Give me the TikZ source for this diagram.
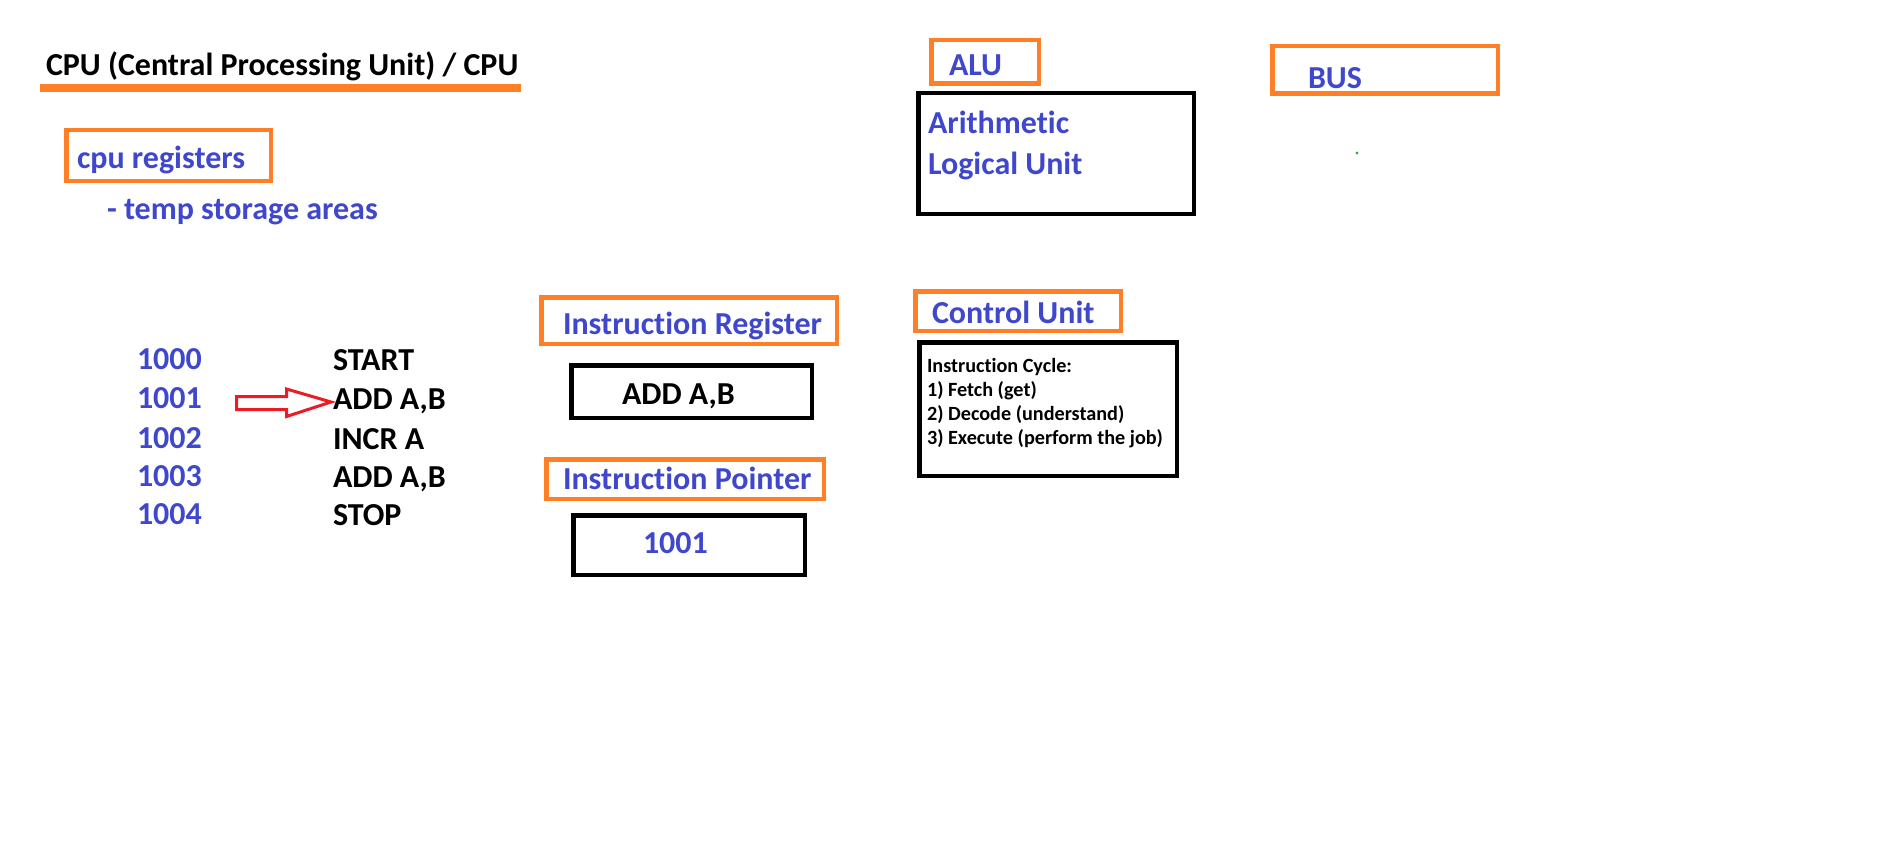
\documentclass[tikz,border=0pt]{standalone}
\usepackage{fontspec}
\setmainfont{Carlito}[Ligatures=CommonOff]
\definecolor{pblue}{HTML}{3F48CC}
\definecolor{porange}{HTML}{FF7F27}
\definecolor{pred}{HTML}{ED1C24}
\definecolor{pgreen}{HTML}{22B14C}
\tikzset{
  big/.style={font=\fontsize{32}{38}\selectfont\bfseries},
  small/.style={font=\fontsize{20.2}{24}\selectfont\bfseries},
  txt/.style={anchor=base west, inner sep=0pt, outer sep=0pt},
  btxt/.style={txt, big, text=pblue},
  ktxt/.style={txt, big, text=black},
  stxt/.style={txt, small, text=black},
  obox/.style={draw=porange, line width=4.5pt},
  kbox/.style={draw=black, line width=4.5pt},
}
\newcommand{\boxat}[6]{% style, name, x1, y1, x2, y2 (outer edges)
  \path[#1] (#3+2.25,#4+2.25) rectangle (#5-2.25,#6-2.25);
  \coordinate (#2) at ({(#3+#5)/2},{(#4+#6)/2});
}
\begin{document}
\begin{tikzpicture}[x=1pt,y=-1pt]
\useasboundingbox[fill=white] (0,0) rectangle (1894,848);

% title
\node[ktxt] (title) at (46,76) {CPU (Central Processing Unit) / CPU};
\draw[porange, line width=8pt] (40,88) coordinate (ul1) -- (521,88) coordinate (ul2);

% cpu registers
\boxat{obox}{regbox}{64}{128}{273}{183}
\node[btxt] (reg) at (77,168) {cpu registers};
\node[btxt] (temp) at (107,219) {- temp storage areas};

% memory listing
\node[btxt] (a0) at (137,369) {1000};
\node[btxt] (a1) at (137,408) {1001};
\node[btxt] (a2) at (137,448) {1002};
\node[btxt] (a3) at (137,486) {1003};
\node[btxt] (a4) at (137,524) {1004};
\node[ktxt] (i0) at (333,370) {START};
\node[ktxt] (i1) at (333,409) {ADD A,B};
\node[ktxt] (i2) at (333,449) {INCR A};
\node[ktxt] (i3) at (333,487) {ADD A,B};
\node[ktxt] (i4) at (333,525) {STOP};

% red hollow arrow
\draw[pred, line width=3pt, line join=miter]
  (236.5,396.5) -- (286.5,396.5) -- (286.5,389) -- (331,402) -- (286.5,416.5)
  -- (286.5,409.5) -- (236.5,409.5) -- cycle;

% instruction register
\boxat{obox}{irbox}{539}{295}{839}{346}
\node[btxt] (ir) at (563,334) {Instruction Register};
\boxat{kbox}{irval}{569}{363}{814}{420}
\node[ktxt] (irv) at (622,404) {ADD A,B};

% instruction pointer
\boxat{obox}{ipbox}{544}{457}{826}{501}
\node[btxt] (ip) at (563,489) {Instruction Pointer};
\boxat{kbox}{ipval}{571}{513}{807}{577}
\node[btxt] (ipv) at (643,553) {1001};

% ALU
\boxat{obox}{alubox}{929}{38}{1041}{86}
\node[btxt] (alu) at (949,76) {ALU};
\boxat{kbox}{aluval}{916}{91}{1196}{216}
\node[btxt] (alu1) at (928,134) {Arithmetic};
\node[btxt] (alu2) at (928,174) {Logical Unit};

% BUS
\boxat{obox}{busbox}{1270}{44}{1500}{96}
\node[btxt] (bus) at (1308,89) {BUS};
\fill[pgreen] (1357,153) circle (1.6);

% Control unit
\boxat{obox}{cubox}{913}{289}{1123}{333}
\node[btxt] (cu) at (932,323) {Control Unit};
\boxat{kbox}{cuval}{917}{340}{1179}{478}
\node[stxt] (c0) at (927,372) {Instruction Cycle:};
\node[stxt] (c1) at (927,396) {1) Fetch (get)};
\node[stxt] (c2) at (927,420) {2) Decode (understand)};
\node[stxt] (c3) at (927,444) {3) Execute (perform the job)};
\end{tikzpicture}
\end{document}
